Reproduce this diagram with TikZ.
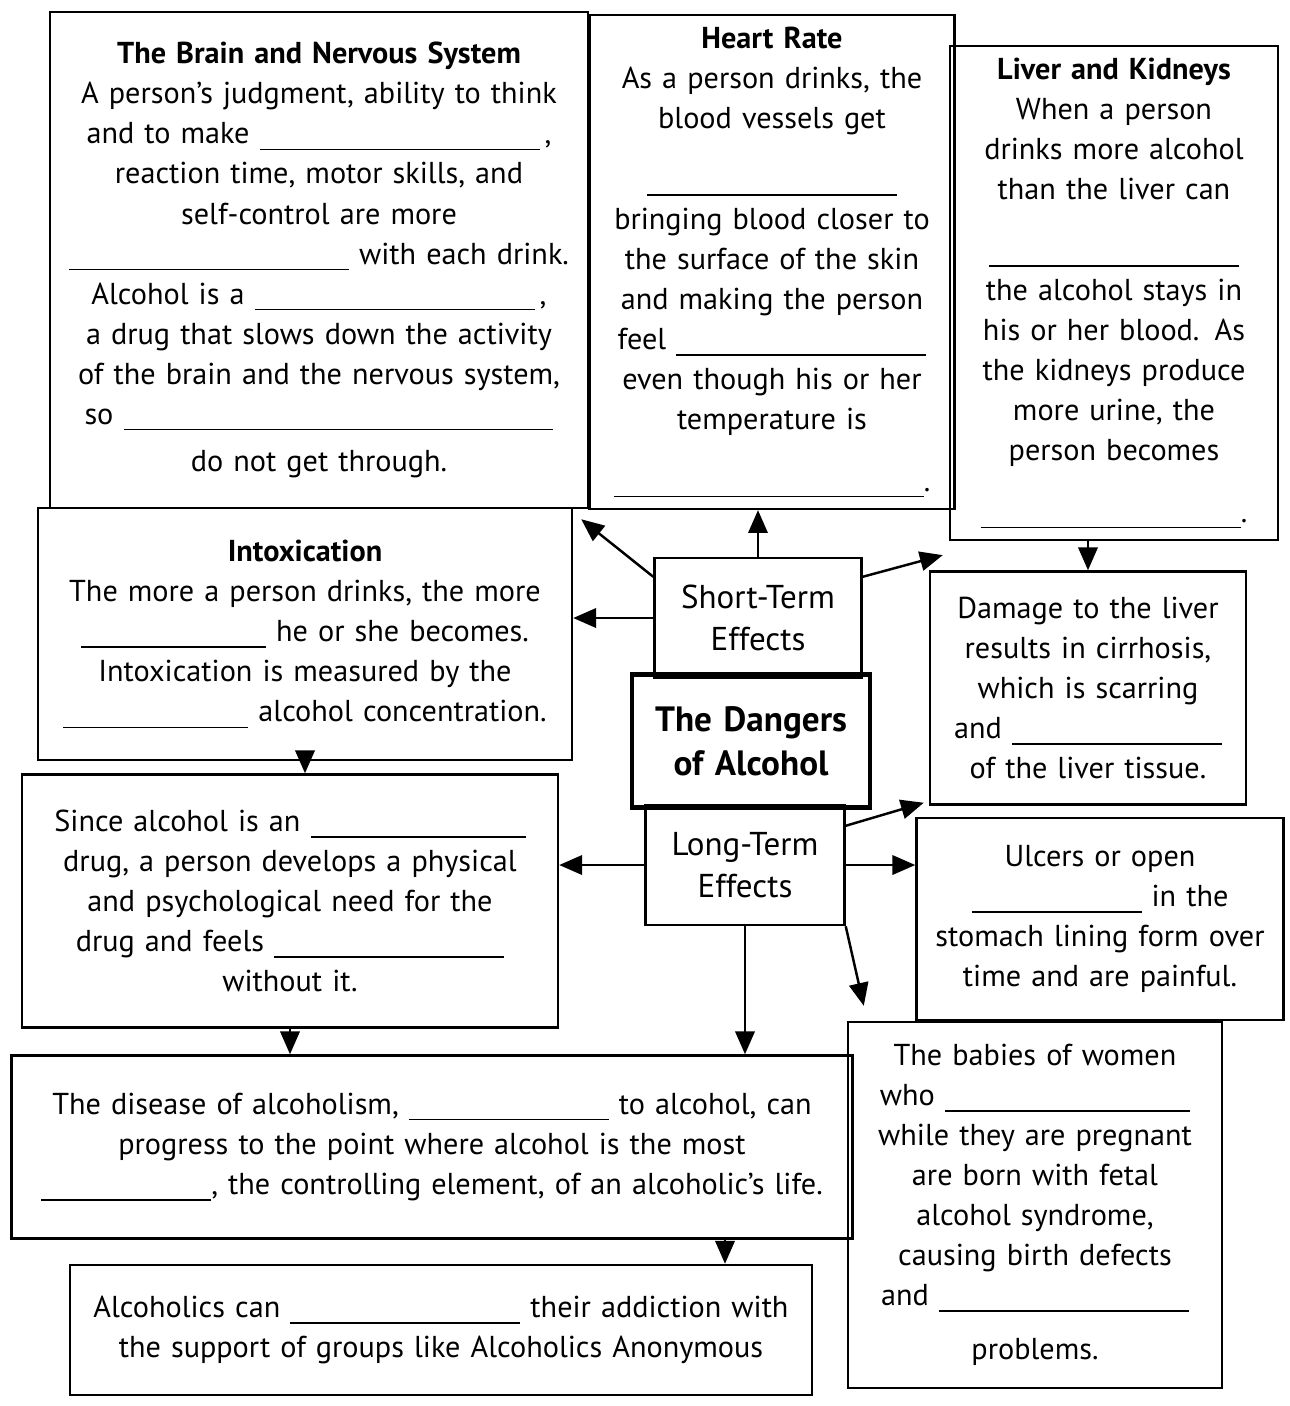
\documentclass[tikz,border=0pt]{standalone}
\usepackage{fontspec}
\setmainfont{PT Sans}
\usetikzlibrary{arrows.meta,calc,positioning}

\newcommand{\blank}[1]{\rule[-0.4ex]{#1mm}{0.4pt}}

\begin{document}
\begin{tikzpicture}[%
    x=0.1mm, y=-0.1mm,
    font=\fontsize{8.6}{11.4}\selectfont,
    infobox/.style 2 args={
        draw,
        line width=0.7pt,
        align=center,
        text width=#1,
        minimum height=#2,
        inner xsep=0pt
        },
    effectbox/.style={
        infobox={#1}{1.2cm},
        font=\fontsize{9.4}{12}\selectfont
        },
    hubbox/.style={
        infobox={2.38cm}{1.33cm},
        line width=1.3pt,
        font=\fontsize{10}{12.5}\selectfont\bfseries
        },
    link/.style={
        line width=0.7pt,
        -{Triangle[length=6.5pt,width=5.5pt]}
        }
]

\useasboundingbox (0,0) rectangle (1290,1406);

% top row
\node[infobox={5.38cm}{4.96cm}] (brain) at (319,260) {%
    {\bfseries The Brain and Nervous System}\\
    A person’s judgment, ability to think\\
    and to make \blank{28}\,,\\
    reaction time, motor skills, and\\
    self-control are more\\
    \blank{28} with each drink.\\
    Alcohol is a \blank{28}\,,\\
    a drug that slows down the activity\\
    of the brain and the nervous system,\\
    so \blank{43}\\[2pt]
    do not get through.};

\node[infobox={3.65cm}{4.8cm}] (heart) at (772,262) {%
    {\bfseries Heart Rate}\\
    As a person drinks, the\\
    blood vessels get\\[6pt]
    \blank{25}\\
    bringing blood closer to\\
    the surface of the skin\\
    and making the person\\
    feel \blank{25}\\
    even though his or her\\
    temperature is\\[6pt]
    \blank{31}.};

\node[infobox={3.28cm}{4.9cm}] (liver) at (1114,293) {%
    {\bfseries Liver and Kidneys}\\
    When a person\\
    drinks more alcohol\\
    than the liver can\\[6pt]
    \blank{25}\\
    the alcohol stays in\\
    his or her blood. As\\
    the kidneys produce\\
    more urine, the\\
    person becomes\\[6pt]
    \blank{26}.};

% middle
\node[infobox={5.34cm}{2.52cm}] (intox) at (305,634) {%
    {\bfseries Intoxication}\\
    The more a person drinks, the more\\
    \blank{18.5} he or she becomes.\\
    Intoxication is measured by the\\
    \blank{18.5} alcohol concentration.};

\node[effectbox=2.07cm] (short) at (758,618) {Short-Term\\Effects};
\node[hubbox] (dangers) at (751,741) {The Dangers\\of Alcohol};
\node[effectbox=1.99cm] (long) at (745,865) {Long-Term\\Effects};

\node[infobox={3.16cm}{2.33cm}] (damage) at (1088,688) {%
    Damage to the liver\\
    results in cirrhosis,\\
    which is scarring\\
    and \blank{21}\\
    of the liver tissue.};

\node[infobox={5.36cm}{2.53cm}] (since) at (290,901) {%
    Since alcohol is an \blank{21.5}\\
    drug, a person develops a physical\\
    and psychological need for the\\
    drug and feels \blank{23}\\
    without it.};

\node[infobox={3.67cm}{2.02cm}] (ulcers) at (1100,919) {%
    Ulcers or open\\
    \blank{17} in the\\
    stomach lining form over\\
    time and are painful.};

% bottom
\node[infobox={3.74cm}{3.66cm}] (babies) at (1035,1205) {%
    The babies of women\\
    who \blank{24.5}\\
    while they are pregnant\\
    are born with fetal\\
    alcohol syndrome,\\
    causing birth defects\\
    and \blank{25}\\[4pt]
    problems.};

\node[infobox={8.41cm}{1.83cm}] (disease) at (432,1147) {%
    The disease of alcoholism, \blank{20} to alcohol, can\\
    progress to the point where alcohol is the most\\
    \blank{17}, the controlling element, of an alcoholic’s life.};

\node[infobox={7.42cm}{1.3cm}] (aa) at (441,1330) {%
    Alcoholics can \blank{23} their addiction with\\
    the support of groups like Alcoholics Anonymous};

% connectors
\coordinate (stl) at ($(short.north west)+(0,20)$);
\coordinate (str) at ($(short.north east)+(0,20)$);
\coordinate (ltr) at ($(long.north east)+(0,22)$);
\coordinate (dtap) at ($(disease.south)+(293,0)$);

\draw[link] (stl) -- ($(brain.south east)+(-8,10)$);
\draw[link] (short.north) -- (short.north |- heart.south);
\draw[link] (str) -- ($(liver.south west)+(-6,14)$);
\draw[link] (short.west) -- (short.west -| intox.east);
\draw[link] (liver.south -| damage.north) -- (damage.north);
\draw[link] (intox.south) -- (intox.south |- since.north);
\draw[link] (since.south) -- (since.south |- disease.north);
\draw[link] (dtap) -- (dtap |- aa.north);
\draw[link] (long.west) -- (long.west -| since.east);
\draw[link] (ltr) -- ($(damage.south west)+(-5,-3)$);
\draw[link] (long.east) -- (long.east -| ulcers.west);
\draw[link] (long.south east) -- ($(babies.north west)+(17,-15)$);
\draw[link] (long.south) -- (long.south |- disease.north);

\end{tikzpicture}
\end{document}
